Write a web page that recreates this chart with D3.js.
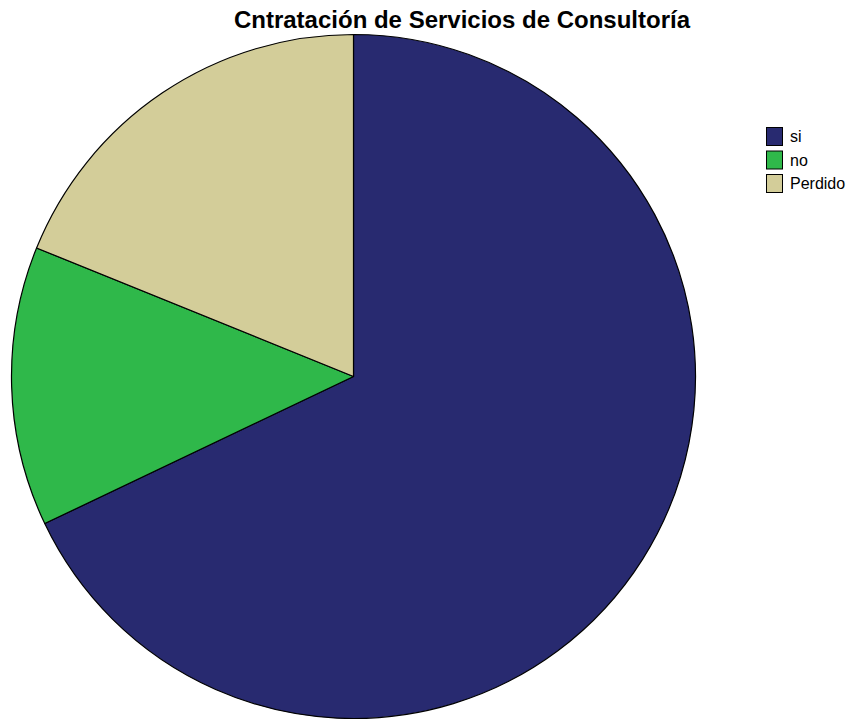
<!DOCTYPE html>
<html>
<head>
<meta charset="utf-8">
<script src="https://cdn.jsdelivr.net/npm/d3@7"></script>
<style>
  body { margin: 0; background: #fff; }
  svg { display: block; font-family: "Liberation Sans", Arial, sans-serif; }
</style>
</head>
<body>
<div id="chart"></div>
<script>
"use strict";

// chart data
var categories = ["si", "no", "Perdido"];
var counts = [36, 7, 10];
var colors = ["#282a70", "#2fb84a", "#d3cd99"];
var title = "Cntratación de Servicios de Consultoría";

var width = 848, height = 721;
var cx = 353.5, cy = 376.5, radius = 342;

var svg = d3.select("#chart").append("svg")
  .attr("width", width)
  .attr("height", height);

// title
svg.append("text")
  .attr("x", 462)
  .attr("y", 28)
  .attr("text-anchor", "middle")
  .attr("font-weight", "bold")
  .attr("font-size", "24px")
  .text(title);

// pie, starting at 12 o'clock going clockwise, keep data order
var pie = d3.pie().sort(null);
var arc = d3.arc().innerRadius(0).outerRadius(radius);
var color = d3.scaleOrdinal().domain(categories).range(colors);

var g = svg.append("g")
  .attr("transform", "translate(" + cx + "," + cy + ")");

g.selectAll("path")
  .data(pie(counts))
  .enter()
  .append("path")
  .attr("d", arc)
  .attr("fill", function(d, i) { return color(categories[i]); })
  .attr("stroke", "#000")
  .attr("stroke-width", 1.2)
  .attr("stroke-linejoin", "round");

// legend
var legend = svg.append("g")
  .attr("transform", "translate(766,127)");

var rows = legend.selectAll("g")
  .data(categories)
  .enter()
  .append("g")
  .attr("transform", function(d, i) { return "translate(0," + (i * 23.5) + ")"; });

rows.append("rect")
  .attr("x", 0.5)
  .attr("y", 0.5)
  .attr("width", 16)
  .attr("height", 18)
  .attr("fill", function(d) { return color(d); })
  .attr("stroke", "#000")
  .attr("stroke-width", 1);

rows.append("text")
  .attr("x", 24)
  .attr("y", 15)
  .attr("font-size", "16px")
  .text(function(d) { return d; });
</script>
</body>
</html>
